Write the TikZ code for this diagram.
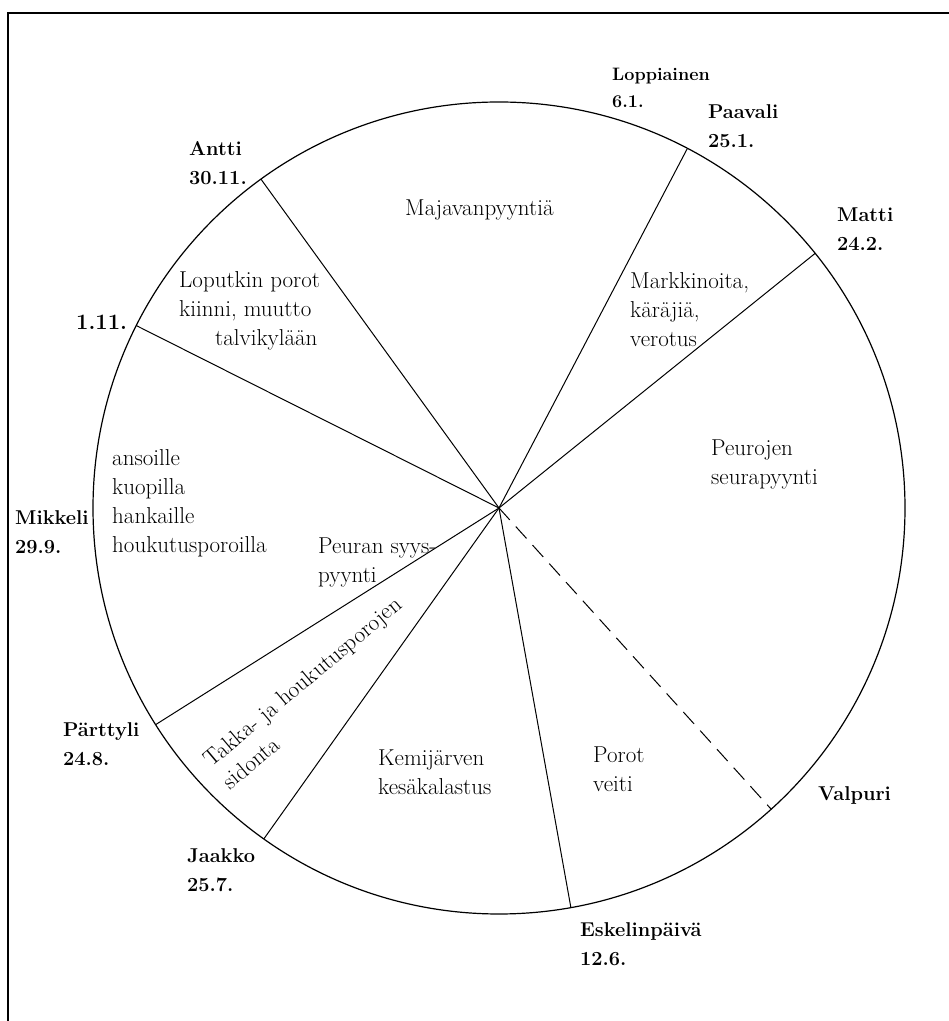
\documentclass[tikz,border=0pt]{standalone}
\usetikzlibrary{calc}
\begin{document}
\begin{tikzpicture}[x=1pt,y=1pt,
  lab/.style={font=\bfseries\fontsize{20}{28.5}\selectfont, align=left, anchor=west, inner sep=0pt},
  labsmall/.style={font=\bfseries\fontsize{18}{27}\selectfont, align=left, anchor=west, inner sep=0pt},
  labbig/.style={font=\bfseries\fontsize{22}{28.5}\selectfont, align=left, anchor=west, inner sep=0pt},
  txt/.style={font=\fontsize{23}{29}\selectfont, align=left, anchor=west, inner sep=0pt},
  spoke/.style={line width=1pt},
  rim/.style={line width=1.2pt},
  frame/.style={line width=1.5pt}]
\useasboundingbox (0,0) rectangle (949,1021);
\draw[frame] (8,0) -- (8,1008) -- (949,1008);
\coordinate (c) at (499,513);
\draw[rim] (c) circle[radius=406pt];
\foreach \n/\a in {antti/125.9, marras/153.3, paavali/62.35, matti/38.85, valpuri/-47.9, eskel/-79.8, jaakko/234.6, parttyli/212.25}
  \coordinate (\n) at ($(c)+(\a:406pt)$);
\foreach \n in {antti, marras, paavali, matti, eskel, jaakko, parttyli}
  \draw[spoke] (c) -- (\n);
\draw[spoke, dash pattern=on 16pt off 9pt] (c) -- (valpuri);
% date labels
\node[labsmall] (lLoppi) at (612,933) {Loppiainen\\6.1.};
\node[lab] (lPaavali) at (708,895) {Paavali\\25.1.};
\node[lab] (lAntti) at (189,858) {Antti\\30.11.};
\node[lab] (lMatti) at (837,792) {Matti\\24.2.};
\node[labbig] (lMarras) at (76,699) {1.11.};
\node[lab] (lMikkeli) at (15,489) {Mikkeli\\29.9.};
\node[lab] (lParttyli) at (63,277) {Pärttyli\\24.8.};
\node[lab] (lJaakko) at (187,151) {Jaakko\\25.7.};
\node[lab] (lEskel) at (580,77) {Eskelinpäivä\\12.6.};
\node[lab] (lValpuri) at (818,225) {Valpuri};
% sector texts
\node[txt] (tMajava) at (405,811) {Majavanpyyntiä};
\node[txt] (tLoput) at (179,710) {Loputkin porot\\kiinni, muutto\\\hspace*{36pt}talvikylään};
\node[txt] (tMarkk) at (630,711) {Markkinoita,\\käräjiä,\\verotus};
\node[txt] (tPeuro) at (711,557) {Peurojen\\seurapyynti};
\node[txt] (tAnso) at (112,518) {ansoille\\kuopilla\\hankaille\\houkutusporoilla};
\node[txt] (tSyys) at (318,459) {Peuran syys-\\pyynti};
\node[txt, rotate=40] (tTakka) at (216,248) {Takka- ja houkutusporojen\\sidonta};
\node[txt] (tKemi) at (378,249) {Kemijärven\\kesäkalastus};
\node[txt] (tPorot) at (593,252) {Porot\\veiti};
\end{tikzpicture}
\end{document}
